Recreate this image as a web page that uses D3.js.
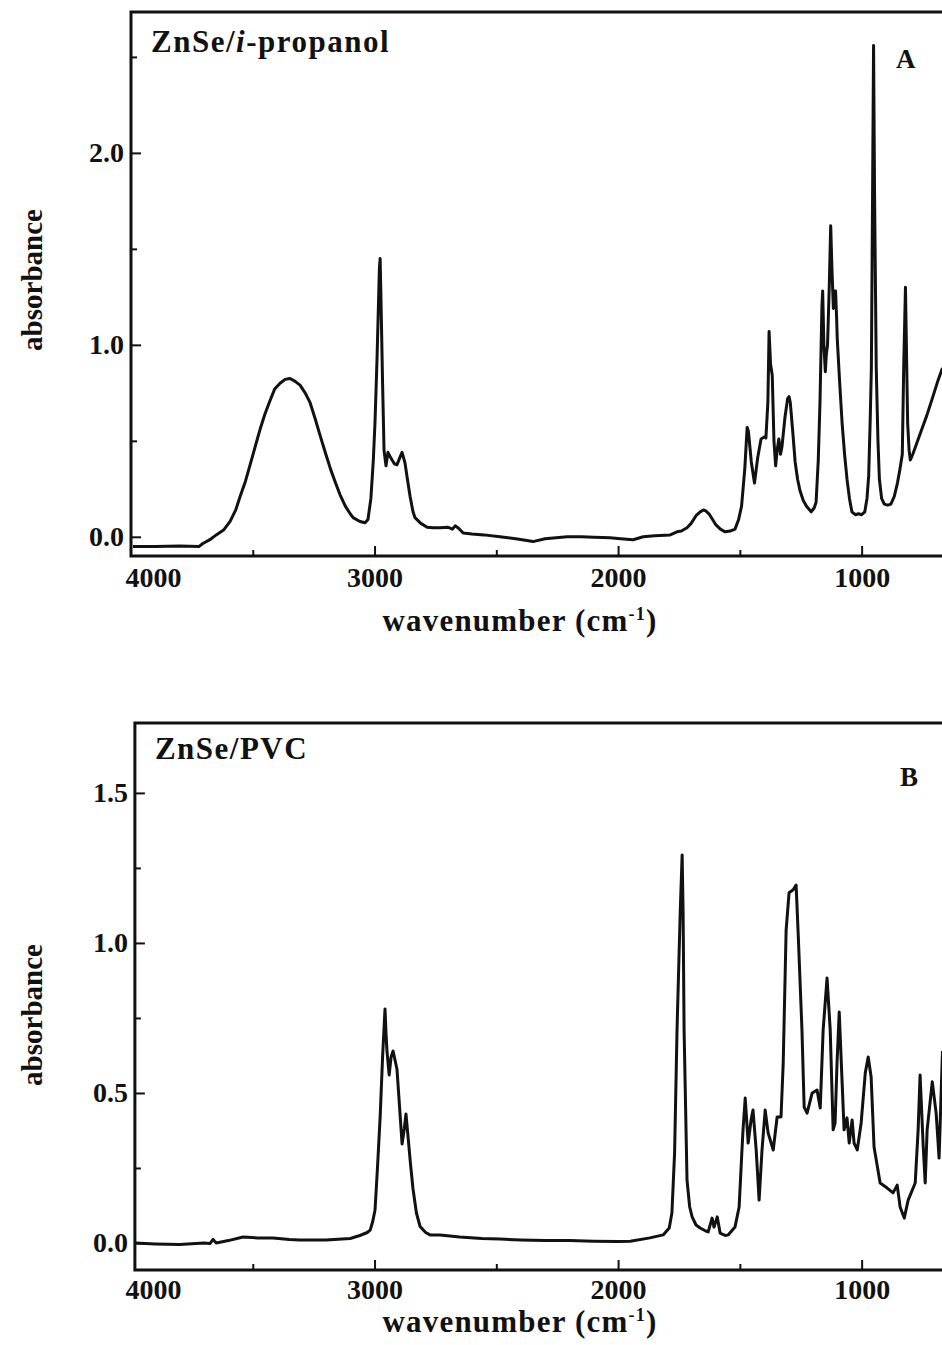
<!DOCTYPE html>
<html>
<head>
<meta charset="utf-8">
<script src="https://cdn.jsdelivr.net/npm/d3@7"></script>
<style>
  body { margin: 0; background: #fff; }
  svg text { font-family: "Liberation Serif", "Times New Roman", serif; font-weight: bold; fill: #111; }
</style>
</head>
<body>
<svg id="fig" width="942" height="1345"></svg>
<script>
// x axis (shared)
var xMajorTicks = [4000, 3000, 2000, 1000]
var xMinorTicks = [3500, 2500, 1500]

// panel A: ZnSe / i-propanol
var topYTicks = [0, 1, 2]
var topYMinor = [0.5, 1.5, 2.5]
var topWave = [3992, 3900, 3800, 3720, 3705, 3676, 3650, 3620, 3593, 3570, 3552, 3530, 3511, 3490, 3470, 3450, 3429, 3410, 3388, 3367, 3347, 3326, 3306, 3285, 3265, 3245, 3224, 3200, 3180, 3160, 3142, 3120, 3100, 3088, 3060, 3039, 3027, 3015, 3005, 2998, 2990, 2980, 2977, 2973, 2967, 2961, 2953, 2945, 2937, 2928, 2918, 2908, 2897, 2887, 2875, 2865, 2854, 2842, 2834, 2810, 2784, 2760, 2731, 2700, 2680, 2669, 2655, 2636, 2600, 2550, 2485, 2420, 2349, 2300, 2209, 2150, 2100, 2033, 1990, 1938, 1897, 1850, 1786, 1758, 1740, 1717, 1700, 1680, 1663, 1650, 1640, 1627, 1612, 1600, 1580, 1560, 1540, 1520, 1505, 1493, 1480, 1470, 1465, 1453, 1440, 1427, 1413, 1400, 1393, 1385, 1380, 1374, 1367, 1360, 1353, 1347, 1340, 1333, 1327, 1315, 1304, 1298, 1293, 1283, 1273, 1263, 1253, 1240, 1227, 1207, 1195, 1187, 1178, 1171, 1163, 1160, 1155, 1149, 1145, 1140, 1133, 1127, 1122, 1116, 1111, 1107, 1103, 1100, 1090, 1080, 1070, 1060, 1050, 1040, 1025, 1013, 1000, 987, 978, 971, 965, 960, 955, 951, 947, 940, 933, 927, 918, 907, 893, 880, 866, 853, 843, 833, 827, 820, 815, 811, 805, 800, 790, 773, 753, 733, 710, 685, 668]
var topAbs = [-0.05, -0.05, -0.048, -0.05, -0.035, -0.015, 0.01, 0.035, 0.08, 0.14, 0.21, 0.29, 0.375, 0.47, 0.56, 0.64, 0.71, 0.77, 0.80, 0.82, 0.825, 0.81, 0.79, 0.75, 0.70, 0.62, 0.53, 0.43, 0.35, 0.28, 0.22, 0.16, 0.12, 0.10, 0.08, 0.073, 0.09, 0.2, 0.4, 0.6, 0.92, 1.4, 1.45, 1.2, 0.8, 0.45, 0.37, 0.44, 0.42, 0.40, 0.38, 0.375, 0.41, 0.44, 0.385, 0.30, 0.21, 0.13, 0.10, 0.07, 0.05, 0.047, 0.047, 0.05, 0.04, 0.057, 0.045, 0.02, 0.015, 0.01, 0.0, -0.01, -0.025, -0.01, 0.0, 0.0, -0.002, -0.005, -0.01, -0.015, 0.0, 0.005, 0.01, 0.026, 0.03, 0.047, 0.07, 0.11, 0.13, 0.14, 0.135, 0.12, 0.09, 0.065, 0.04, 0.026, 0.03, 0.04, 0.09, 0.16, 0.35, 0.57, 0.55, 0.39, 0.28, 0.41, 0.51, 0.52, 0.515, 0.7, 1.07, 0.9, 0.84, 0.5, 0.37, 0.45, 0.51, 0.43, 0.47, 0.62, 0.72, 0.73, 0.70, 0.55, 0.39, 0.3, 0.24, 0.19, 0.16, 0.13, 0.15, 0.18, 0.4, 0.70, 1.2, 1.28, 1.0, 0.86, 0.95, 1.0, 1.3, 1.62, 1.4, 1.19, 1.28, 1.28, 1.15, 1.03, 0.8, 0.59, 0.43, 0.30, 0.2, 0.13, 0.115, 0.12, 0.115, 0.13, 0.2, 0.32, 0.6, 0.88, 1.8, 2.56, 1.8, 0.88, 0.5, 0.30, 0.2, 0.17, 0.165, 0.17, 0.21, 0.28, 0.35, 0.43, 0.9, 1.30, 0.9, 0.59, 0.45, 0.40, 0.43, 0.49, 0.56, 0.63, 0.72, 0.82, 0.88]

// panel B: ZnSe / PVC
var botYTicks = [0, 0.5, 1, 1.5]
var botYMinor = [0.25, 0.75, 1.25]
var botWave = [3985, 3900, 3800, 3700, 3676, 3663, 3650, 3600, 3540, 3480, 3417, 3350, 3306, 3200, 3100, 3060, 3030, 3018, 3008, 2998, 2988, 2977, 2967, 2957, 2953, 2949, 2940, 2932, 2924, 2908, 2897, 2887, 2878, 2871, 2862, 2852, 2842, 2828, 2813, 2790, 2772, 2731, 2650, 2560, 2485, 2400, 2300, 2200, 2100, 2000, 1950, 1869, 1815, 1790, 1779, 1768, 1758, 1745, 1737, 1733, 1729, 1717, 1706, 1696, 1680, 1663, 1640, 1630, 1614, 1606, 1593, 1581, 1560, 1548, 1520, 1503, 1492, 1487, 1478, 1466, 1454, 1446, 1433, 1421, 1409, 1396, 1384, 1363, 1347, 1331, 1322, 1310, 1298, 1281, 1269, 1261, 1245, 1236, 1224, 1203, 1183, 1170, 1158, 1142, 1129, 1117, 1109, 1101, 1092, 1080, 1072, 1060, 1051, 1039, 1031, 1018, 1002, 985, 973, 961, 949, 924, 895, 871, 854, 842, 825, 809, 780, 768, 760, 747, 739, 731, 710, 694, 682, 668]
var botAbs = [0.0, -0.003, -0.005, 0.0, -0.002, 0.012, 0.0, 0.008, 0.02, 0.017, 0.017, 0.012, 0.01, 0.01, 0.015, 0.025, 0.035, 0.043, 0.07, 0.11, 0.25, 0.42, 0.62, 0.78, 0.7, 0.64, 0.56, 0.62, 0.64, 0.58, 0.45, 0.33, 0.38, 0.43, 0.35, 0.26, 0.18, 0.1, 0.055, 0.035, 0.027, 0.027, 0.02, 0.015, 0.013, 0.01, 0.008, 0.008, 0.006, 0.005, 0.006, 0.017, 0.027, 0.05, 0.10, 0.3, 0.71, 1.1, 1.293, 1.1, 0.71, 0.21, 0.12, 0.087, 0.06, 0.05, 0.04, 0.037, 0.083, 0.053, 0.087, 0.033, 0.025, 0.027, 0.053, 0.12, 0.3, 0.377, 0.483, 0.333, 0.41, 0.443, 0.31, 0.143, 0.31, 0.443, 0.367, 0.31, 0.42, 0.42, 0.60, 1.043, 1.167, 1.177, 1.193, 1.04, 0.71, 0.453, 0.433, 0.50, 0.51, 0.45, 0.71, 0.883, 0.71, 0.377, 0.40, 0.60, 0.77, 0.533, 0.377, 0.417, 0.333, 0.41, 0.333, 0.31, 0.40, 0.567, 0.62, 0.553, 0.32, 0.20, 0.183, 0.167, 0.193, 0.12, 0.083, 0.143, 0.20, 0.377, 0.56, 0.32, 0.20, 0.377, 0.537, 0.433, 0.283, 0.64]

var svg = d3.select("#fig")

function drawPanel(opt) {
  var x = d3.scaleLinear().domain([4000, 670]).range([131, 942])
  var left = x(opt.xStart)
  var y = d3.scaleLinear().domain(opt.yDomain).range([opt.bottom, opt.top])

  var g = svg.append("g")

  var clipId = "clip" + opt.id
  g.append("clipPath").attr("id", clipId)
    .append("rect")
    .attr("x", left).attr("y", opt.top)
    .attr("width", 942 - left).attr("height", opt.bottom - opt.top)

  var data = opt.wave.map((w, i) => [w, opt.abs[i]])
  var line = d3.line().x(d => x(d[0])).y(d => y(d[1]))

  g.append("path")
    .datum(data)
    .attr("clip-path", "url(#" + clipId + ")")
    .attr("d", line)
    .attr("fill", "none")
    .attr("stroke", "#111")
    .attr("stroke-width", 3)
    .attr("stroke-linejoin", "round")

  // x axis
  var xAxis = g.append("g")
    .attr("transform", "translate(0," + opt.bottom + ")")
    .call(d3.axisBottom(x).tickValues(xMajorTicks).tickSize(-10).tickSizeOuter(0).tickPadding(opt.xPad).tickFormat(d3.format("d")))
  xAxis.select(".domain").remove()
  xAxis.selectAll("line").attr("stroke", "#111").attr("stroke-width", 2)
  xAxis.selectAll("text").style("font-size", "28px")
  xAxis.selectAll(".tick").filter(d => d == 4000).select("line").remove()
  xAxis.selectAll(".tick").filter(d => d == 4000).select("text")
    .attr("text-anchor", "start").attr("x", -6)

  g.append("g")
    .attr("transform", "translate(0," + opt.bottom + ")")
    .call(d3.axisBottom(x).tickValues(xMinorTicks).tickSize(-6).tickFormat(""))
    .call(a => a.select(".domain").remove())
    .selectAll("line").attr("stroke", "#111").attr("stroke-width", 2)

  // y axis
  var yAxis = g.append("g")
    .attr("transform", "translate(" + left + ",0)")
    .call(d3.axisLeft(y).tickValues(opt.yTicks).tickSize(-10).tickPadding(7).tickFormat(d3.format(".1f")))
  yAxis.select(".domain").remove()
  yAxis.selectAll("line").attr("stroke", "#111").attr("stroke-width", 2)
  yAxis.selectAll("text").style("font-size", "28px")

  g.append("g")
    .attr("transform", "translate(" + left + ",0)")
    .call(d3.axisLeft(y).tickValues(opt.yMinor).tickSize(-6).tickFormat(""))
    .call(a => a.select(".domain").remove())
    .selectAll("line").attr("stroke", "#111").attr("stroke-width", 2)

  // frame (left, top, bottom)
  g.append("path")
    .attr("d", "M942," + opt.top + "H" + left + "V" + opt.bottom + "H942")
    .attr("fill", "none")
    .attr("stroke", "#111")
    .attr("stroke-width", 3)

  // labels
  g.append("text")
    .attr("x", left + 20).attr("y", opt.top + opt.titleDy)
    .style("font-size", "31px").style("letter-spacing", "1.5px")
    .call(opt.title)

  g.append("text")
    .attr("x", opt.tagX).attr("y", opt.tagY)
    .style("font-size", "27px")
    .text(opt.tag)

  var xt = g.append("text")
    .attr("x", 520).attr("y", opt.bottom + opt.xTitleDy)
    .attr("text-anchor", "middle")
    .style("font-size", "31px").style("letter-spacing", "1.2px")
  xt.append("tspan").text("wavenumber (cm")
  xt.append("tspan").attr("dy", -11).style("font-size", "18px").text("-1")
  xt.append("tspan").attr("dy", 11).text(")")

  g.append("text")
    .attr("transform", "translate(42," + opt.yTitleY + ") rotate(-90)")
    .attr("text-anchor", "middle")
    .style("font-size", "29px")
    .text("absorbance")
}

drawPanel({
  id: "A", xStart: 4000, top: 12, bottom: 556, yDomain: [-0.1, 2.734],
  yTicks: topYTicks, yMinor: topYMinor, wave: topWave, abs: topAbs,
  titleDy: 40, tag: "A", tagX: 896, tagY: 68, yTitleY: 280, xTitleDy: 75, xPad: 11,
  title: t => {
    t.append("tspan").text("ZnSe/")
    t.append("tspan").style("font-style", "italic").text("i")
    t.append("tspan").text("-propanol")
  }
})

drawPanel({
  id: "B", xStart: 3984, top: 723, bottom: 1270, yDomain: [-0.09, 1.733],
  yTicks: botYTicks, yMinor: botYMinor, wave: botWave, abs: botAbs,
  titleDy: 36, tag: "B", tagX: 900, tagY: 786, yTitleY: 1015, xTitleDy: 62, xPad: 9,
  title: t => t.text("ZnSe/PVC")
})
</script>
</body>
</html>
